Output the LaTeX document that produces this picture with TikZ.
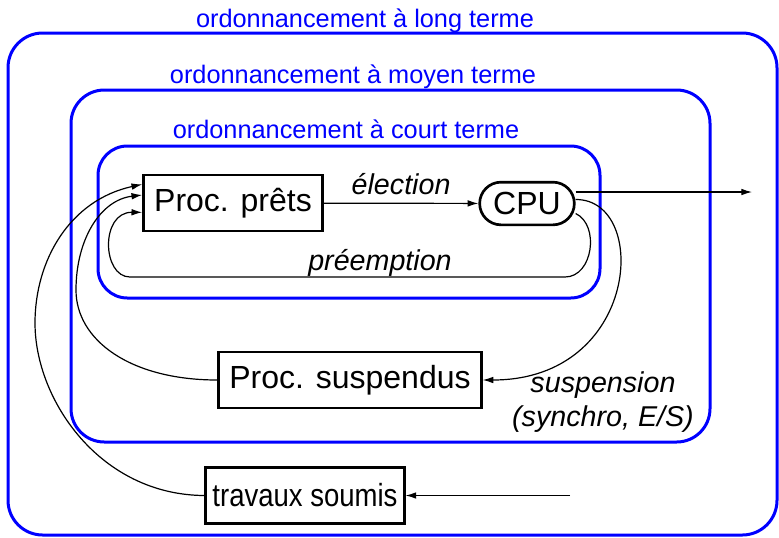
\documentclass[tikz,border=0pt]{standalone}
\usepackage{fontspec}
\setmainfont{Liberation Sans}
\usetikzlibrary{arrows.meta}
\tikzset{box/.style = {draw, line width = 2pt, minimum height = 42pt, inner xsep = 8pt, font = \fontsize{24}{28}\selectfont}}
\tikzset{level/.style = {draw = blue, line width = 2.25pt}}
\tikzset{levellabel/.style = {text = blue, anchor = base, inner sep = 0, font = \fontsize{19}{22}\selectfont}}
\tikzset{edgelabel/.style = {inner sep = 0, font = \fontsize{21.5}{25}\selectfont\itshape}}
\tikzset{flow/.style = {line width = 0.9pt, -{Latex[length = 8pt, width = 5pt]}}}

\begin{document}
\begin{tikzpicture}[x = 0.75pt, y = -0.75pt]
    \useasboundingbox (0, 0) rectangle (779, 537);

    % the three levels
    \draw [level, rounded corners = 26pt] (8, 33) rectangle (777, 535);
    \draw [level, rounded corners = 25pt] (71, 90) rectangle (710, 442);
    \draw [level, rounded corners = 22pt] (98, 146) rectangle (600, 298);
    \node [levellabel] (longlbl) at (365, 27) {ordonnancement à long terme};
    \node [levellabel] (moyenlbl) at (353, 83) {ordonnancement à moyen terme};
    \node [levellabel] (courtlbl) at (346, 138) {ordonnancement à court terme};

    \node [box] (prets) at (233, 203) {Proc. prêts};
    \node [box, rounded corners = 16pt, minimum width = 71pt, minimum height = 32pt, inner xsep = 4pt] (cpu) at (527, 203.5) {CPU};
    \node [box] (susp) at (350, 380) {Proc. suspendus};
    \node [box, inner xsep = 5pt] (travaux) at (305, 495.5) {\scalebox{0.86}[1]{travaux soumis}};

    \coordinate (exit) at (752, 192);
    \coordinate (entry) at (570, 495.5);

    \draw [flow] (prets) -- (cpu) node [edgelabel, midway, above = 6pt] (electlbl) {élection};
    \draw [flow] (cpu.east |- exit) -- (exit);
    \draw [flow] ([yshift = -7.5pt]cpu.east) .. controls (600, 225) and (593, 277) .. (565, 277)
        -- (130, 277) .. controls (102, 277) and (100, 212) .. ([yshift = -7pt]prets.west);
    \node [edgelabel, anchor = base] (preemptlbl) at (380, 270) {préemption};
    \draw [flow] ([yshift = 3pt]cpu.east) .. controls (650, 199) and (640, 380) .. (susp.east);
    \node [edgelabel, align = center] (susplbl) at (603, 402) {suspension\\(synchro, E/S)};
    \draw [flow] (susp.west) .. controls (130, 380) and (76, 340) .. (76, 290)
        .. controls (76, 240) and (100, 200) .. ([yshift = 6pt]prets.west);
    \draw [flow] (entry) -- (travaux);
    \draw [flow] (travaux.west) .. controls (100, 495) and (35, 400) .. (35, 323)
        .. controls (35, 260) and (70, 200) .. ([yshift = 14pt]prets.west);
\end{tikzpicture}
\end{document}
